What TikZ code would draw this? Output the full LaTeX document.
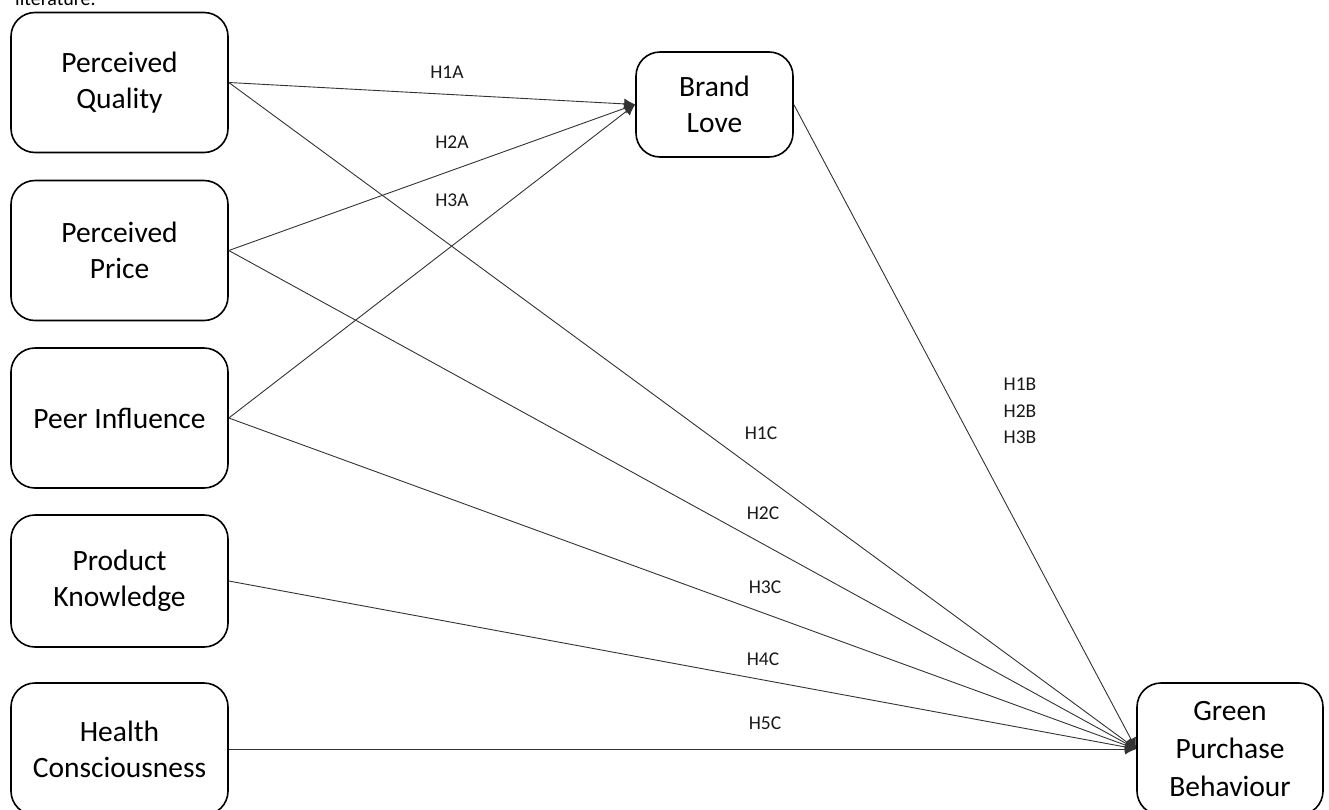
\documentclass[tikz,border=0pt]{standalone}
\usepackage{fontspec}
\setmainfont{Carlito}
\usetikzlibrary{arrows.meta,positioning}

\tikzset{
  construct/.style={draw, line width=1.6pt, rounded corners=24pt, minimum width=217pt,
    minimum height=140pt, inner sep=0pt, align=center, font=\fontsize{29.5}{36}\selectfont},
  hyp/.style={inner sep=0pt, align=center, text=black!90, font=\fontsize{19.5}{26.5}\selectfont},
  link/.style={->, >={Latex[length=11pt,width=11pt]}, line width=0.9pt, draw=black!80}
}

\begin{document}
\begin{tikzpicture}[x=1pt,y=-1pt]

  \useasboundingbox (0,0) rectangle (1329,809);

  % cut-off line of the text above the figure
  \node[anchor=base west, inner sep=0pt, font=\fontsize{20}{24}\selectfont] (lit) at (15,5) {literature.};

  % constructs
  \node[construct] (pq) at (119.5,82.5) {Perceived\\Quality};
  \node[construct] (pp) at (119.5,250.5) {Perceived\\Price};
  \node[construct] (pi) at (119.5,418) {Peer Influence};
  \node[construct, minimum height=132pt] (pk) at (119.5,581) {Product\\Knowledge};
  \node[construct, minimum height=132pt] (hc) at (119.5,749) {Health\\Consciousness};

  \node[construct, minimum width=157pt, minimum height=105pt] (bl) at (714.5,104.5) {Brand\\Love};
  \node[construct, minimum width=186pt, minimum height=132pt, font=\fontsize{29.5}{38}\selectfont] (gpb) at (1230,749) {Green\\Purchase\\Behaviour};

  % paths to brand love
  \draw[link] (pq.east) -- (bl.west);
  \draw[link] (pp.east) -- (bl.west);
  \draw[link] (pi.east) -- (bl.west);

  % paths to green purchase behaviour
  \draw[link] (bl.east) -- (gpb.west);
  \draw[link] (pq.east) -- (gpb.west);
  \draw[link] (pp.east) -- (gpb.west);
  \draw[link] (pi.east) -- (gpb.west);
  \draw[link] (pk.east) -- (gpb.west);
  \draw[link] (hc.east) -- (gpb.west);

  % hypotheses
  \node[hyp] (h1a) at (447,72) {H1A};
  \node[hyp] (h2a) at (452,142) {H2A};
  \node[hyp] (h3a) at (452,200) {H3A};
  \node[hyp] (hb) at (1020,411) {H1B\\H2B\\H3B};
  \node[hyp] (h1c) at (761,433) {H1C};
  \node[hyp] (h2c) at (763,513) {H2C};
  \node[hyp] (h3c) at (765,587) {H3C};
  \node[hyp] (h4c) at (763,659) {H4C};
  \node[hyp] (h5c) at (765,723) {H5C};

\end{tikzpicture}
\end{document}
